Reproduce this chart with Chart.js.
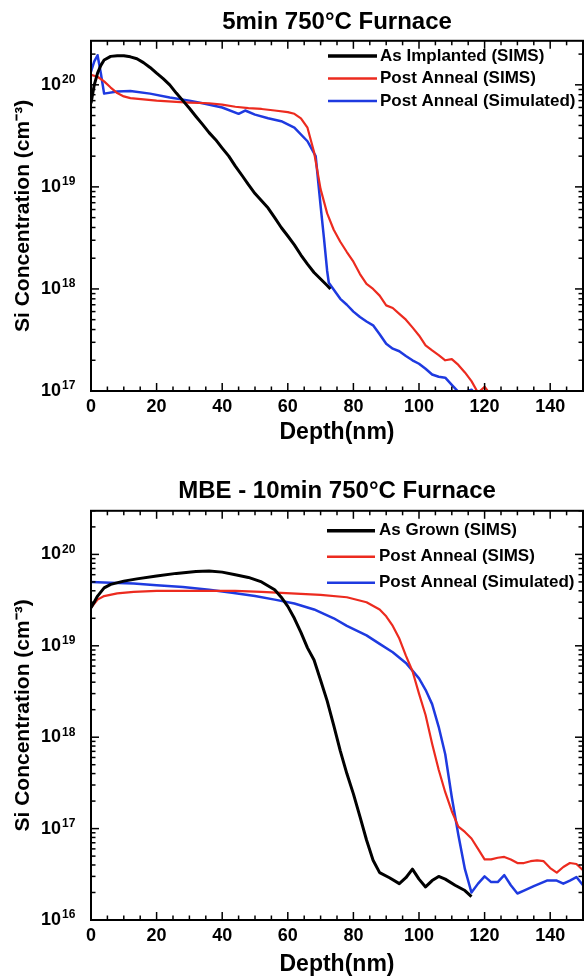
<!DOCTYPE html>
<html>
<head>
<meta charset="utf-8">
<script src="https://cdn.jsdelivr.net/npm/chart.js@4.4.1/dist/chart.umd.min.js"></script>
<style>
  body { margin: 0; background: #fff; }
  canvas { display: block; }
</style>
</head>
<body>
<canvas id="topChart" width="584" height="470"></canvas>
<canvas id="bottomChart" width="584" height="510"></canvas>
<script>
// ------------------------------------
// DATA: top panel (5min 750C furnace, implanted)
// ------------------------------------
const implDepth = [0, 1, 2, 3, 4, 6, 8, 10, 12, 14, 16, 18, 20, 22, 24, 26, 28, 30, 32, 34, 36, 38, 40, 42, 44, 46, 48, 50, 52, 54, 56, 58, 60, 62, 64, 66, 68, 70, 72, 73];
const implConc = [6.6e19, 1.0e20, 1.3e20, 1.55e20, 1.75e20, 1.9e20, 1.93e20, 1.93e20, 1.88e20, 1.8e20, 1.65e20, 1.48e20, 1.3e20, 1.15e20, 1.0e20, 8.3e19, 7.0e19, 5.9e19, 4.9e19, 4.1e19, 3.4e19, 2.9e19, 2.4e19, 2.0e19, 1.6e19, 1.3e19, 1.05e19, 8.6e18, 7.3e18, 6.2e18, 5.0e18, 4.0e18, 3.3e18, 2.7e18, 2.15e18, 1.75e18, 1.45e18, 1.25e18, 1.08e18, 1.0e18];

const topSimsDepth = [0, 2, 4, 6, 8, 10, 12, 16, 20, 26, 30, 36, 40, 44, 48, 52, 56, 60, 62, 64, 66, 68, 70, 72, 74, 76, 78, 80, 82, 84, 86, 88, 90, 92, 94, 96, 98, 100, 102, 104, 106, 108, 110, 112, 114, 116, 118, 120, 122];
const topSimsConc = [1.25e20, 1.2e20, 1.08e20, 9.4e19, 8.3e19, 7.7e19, 7.4e19, 7.2e19, 7.0e19, 6.8e19, 6.7e19, 6.6e19, 6.4e19, 6.1e19, 5.9e19, 5.8e19, 5.6e19, 5.4e19, 5.2e19, 4.7e19, 3.8e19, 2.2e19, 9.5e18, 5.5e18, 3.8e18, 2.9e18, 2.3e18, 1.85e18, 1.4e18, 1.12e18, 1.0e18, 8.6e17, 6.9e17, 6.5e17, 5.7e17, 5.0e17, 4.2e17, 3.5e17, 2.8e17, 2.5e17, 2.25e17, 2.0e17, 2.05e17, 1.8e17, 1.52e17, 1.25e17, 9.6e16, 1.1e17, 9.0e16];

const topSimDepth = [0, 1, 2, 3, 4, 8, 12, 18, 24, 30, 34, 40, 45, 47, 50, 54, 58, 62, 66, 68.5, 70, 71, 72, 72.5, 76, 78, 80, 82, 84, 86, 88, 90, 92, 94, 96, 98, 100, 102, 104, 106, 108, 110, 112, 114, 116, 117];
const topSimConc = [1.35e20, 1.7e20, 1.95e20, 1.3e20, 8.2e19, 8.6e19, 8.7e19, 8.2e19, 7.5e19, 7.0e19, 6.6e19, 6.0e19, 5.2e19, 5.6e19, 5.1e19, 4.7e19, 4.4e19, 3.8e19, 2.8e19, 2.0e19, 6.5e18, 3.2e18, 1.5e18, 1.15e18, 8.0e17, 7.0e17, 6.0e17, 5.3e17, 4.8e17, 4.4e17, 3.6e17, 2.9e17, 2.6e17, 2.45e17, 2.2e17, 2.0e17, 1.85e17, 1.65e17, 1.45e17, 1.38e17, 1.35e17, 1.15e17, 9.8e16, 9.8e16, 1.03e17, 9.5e16];

// ------------------------------------
// DATA: bottom panel (MBE - 10min 750C furnace)
// ------------------------------------
const grownDepth = [0, 2, 4, 6, 10, 14, 20, 26, 32, 36, 40, 44, 48, 52, 56, 58, 60, 62, 64, 66, 68, 70, 72, 74, 76, 78, 80, 82, 84, 86, 88, 91, 94, 96, 98, 100, 102, 104, 106, 108, 111, 114, 116];
const grownConc = [2.6e19, 3.5e19, 4.3e19, 4.7e19, 5.1e19, 5.4e19, 5.8e19, 6.2e19, 6.5e19, 6.6e19, 6.4e19, 6.0e19, 5.6e19, 5.0e19, 4.1e19, 3.4e19, 2.7e19, 2.0e19, 1.4e19, 9.5e18, 7.0e18, 4.2e18, 2.5e18, 1.35e18, 7.1e17, 4.0e17, 2.4e17, 1.35e17, 7.5e16, 4.5e16, 3.3e16, 2.9e16, 2.5e16, 2.9e16, 3.6e16, 2.8e16, 2.3e16, 2.7e16, 3.0e16, 2.8e16, 2.4e16, 2.1e16, 1.8e16];

const botSimsDepth = [0, 2, 4, 8, 13, 20, 28, 36, 44, 52, 58, 64, 70, 78, 84, 88, 90, 92, 94, 96, 98, 100, 102, 104, 106, 108, 110, 112, 114, 116, 118, 120, 122, 124, 126, 128, 130, 132, 134, 136, 138, 140, 142, 144, 146, 148, 150];
const botSimsConc = [2.6e19, 3.2e19, 3.5e19, 3.75e19, 3.9e19, 4.0e19, 4.0e19, 4.0e19, 4.0e19, 3.9e19, 3.8e19, 3.7e19, 3.6e19, 3.4e19, 3.0e19, 2.5e19, 2.1e19, 1.65e19, 1.2e19, 7.8e18, 5.3e18, 3.0e18, 1.75e18, 8.5e17, 4.4e17, 2.5e17, 1.55e17, 1.05e17, 9.2e16, 7.8e16, 6.0e16, 4.6e16, 4.6e16, 4.8e16, 4.9e16, 4.6e16, 4.2e16, 4.2e16, 4.4e16, 4.5e16, 4.4e16, 3.7e16, 3.3e16, 3.8e16, 4.2e16, 4.1e16, 3.5e16];

const botSimDepth = [0, 6, 13, 20, 28, 36, 43, 50, 56, 62, 68, 74, 78, 84, 88, 92, 96, 100, 102, 104, 106, 108, 110, 112, 114, 116, 118, 120, 122, 124, 126, 128, 130, 132, 135, 139, 142, 144, 146, 148, 150];
const botSimConc = [5.0e19, 4.9e19, 4.8e19, 4.6e19, 4.4e19, 4.1e19, 3.8e19, 3.5e19, 3.2e19, 2.9e19, 2.5e19, 2.0e19, 1.65e19, 1.3e19, 1.05e19, 8.5e18, 6.5e18, 4.4e18, 3.3e18, 2.3e18, 1.3e18, 6.5e17, 2.2e17, 8.5e16, 3.6e16, 2.0e16, 2.5e16, 3.0e16, 2.6e16, 2.6e16, 3.1e16, 2.4e16, 1.95e16, 2.1e16, 2.35e16, 2.7e16, 2.7e16, 2.5e16, 2.7e16, 2.95e16, 2.4e16];

// ------------------------------------
// AXES / LABELS
// ------------------------------------
const xTickValues = [0, 20, 40, 60, 80, 100, 120, 140];
const topDecades = [17, 18, 19, 20];
const bottomDecades = [16, 17, 18, 19, 20];
const topLabels = ["As Implanted (SIMS)", "Post Anneal (SIMS)", "Post Anneal (Simulated)"];
const bottomLabels = ["As Grown (SIMS)", "Post Anneal (SIMS)", "Post Anneal (Simulated)"];
const seriesColors = ["#000000", "#ec2b1f", "#1e3ae0"];
const seriesWidths = [3, 2.2, 2.5];

const FONT = "'Liberation Sans', Arial, Helvetica, sans-serif";
Chart.defaults.font.family = FONT;
Chart.defaults.color = "#000";

function pts(xs, ys) {
  return xs.map((x, i) => ({ x: x, y: ys[i] }));
}

function makeDatasets(labels, series) {
  return series.map((s, i) => ({
    label: labels[i],
    data: pts(s[0], s[1]),
    borderColor: seriesColors[i],
    borderWidth: seriesWidths[i],
    pointRadius: 0,
    tension: 0,
    fill: false,
    clip: 0,
    borderJoinStyle: "round",
  }));
}

// ------------------------------------
// PLUGIN: frame, inward ticks, exponents, legend
// ------------------------------------
const frameTicks = {
  id: "frameTicks",
  afterDatasetsDraw(chart) {
    const { ctx, chartArea: a } = chart;
    const x = chart.scales.x, y = chart.scales.y;
    ctx.save();
    ctx.strokeStyle = "#000";
    ctx.lineWidth = 1.5;
    const seg = (x0, y0, x1, y1) => {
      ctx.beginPath(); ctx.moveTo(x0, y0); ctx.lineTo(x1, y1); ctx.stroke();
    };
    for (let v = x.min; v <= x.max; v += 5) {
      const px = x.getPixelForValue(v);
      const len = v % 20 === 0 ? 8 : 4.5;
      seg(px, a.bottom, px, a.bottom - len);
      seg(px, a.top, px, a.top + len);
    }
    const e0 = Math.floor(Math.log10(y.min)), e1 = Math.ceil(Math.log10(y.max));
    for (let e = e0; e <= e1; e++) {
      for (let m = 1; m < 10; m++) {
        const v = m * Math.pow(10, e);
        if (v < y.min * 0.999 || v > y.max) continue;
        const py = y.getPixelForValue(v);
        const len = m === 1 ? 8 : 4.5;
        seg(a.left, py, a.left + len, py);
        seg(a.right, py, a.right - len, py);
      }
    }
    ctx.lineWidth = 2;
    ctx.strokeRect(a.left, a.top, a.right - a.left, a.bottom - a.top);

    // exponent part of the 10^n tick labels
    ctx.fillStyle = "#000";
    ctx.font = "bold 12px " + FONT;
    ctx.textAlign = "left";
    ctx.textBaseline = "middle";
    y.ticks.forEach((t) => {
      const py = y.getPixelForValue(t.value);
      ctx.fillText(String(Math.round(Math.log10(t.value))), a.left - 29, py - 5);
    });
    ctx.restore();
  },
  afterDraw(chart, args, opts) {
    const ctx = chart.ctx;
    ctx.save();
    ctx.font = "bold 17px " + FONT;
    ctx.textAlign = "left";
    ctx.textBaseline = "middle";
    ctx.fillStyle = "#000";
    chart.data.datasets.forEach((ds, i) => {
      const yy = opts.top + i * opts.gap;
      ctx.strokeStyle = ds.borderColor;
      ctx.lineWidth = i === 0 ? 3.5 : 2.5;
      ctx.beginPath(); ctx.moveTo(opts.lineX0, yy); ctx.lineTo(opts.lineX1, yy); ctx.stroke();
      ctx.fillText(ds.label, opts.textX, yy);
    });
    ctx.restore();
  },
};

function makeChart(id, title, titlePad, labels, series, decades, yMax, xAxisH, xTitlePad, legend) {
  const ctx = document.getElementById(id).getContext("2d");
  return new Chart(ctx, {
    type: "line",
    data: { datasets: makeDatasets(labels, series) },
    plugins: [frameTicks],
    options: {
      responsive: false,
      animation: false,
      layout: { padding: { left: 0, right: 1, top: 0, bottom: 0 } },
      plugins: {
        legend: { display: false },
        tooltip: { enabled: false },
        title: {
          display: true,
          text: title,
          fullSize: false,
          font: { size: 24, weight: "bold" },
          color: "#000",
          padding: titlePad,
        },
        frameTicks: legend,
      },
      scales: {
        x: {
          type: "linear",
          min: 0,
          max: 150,
          grid: { display: false, drawTicks: false },
          border: { display: false },
          afterBuildTicks: (s) => { s.ticks = xTickValues.map((v) => ({ value: v })); },
          afterFit: (s) => { s.height = xAxisH; },
          ticks: { font: { size: 18, weight: "bold" }, padding: 5, autoSkip: false, maxRotation: 0 },
          title: {
            display: true,
            text: "Depth(nm)",
            font: { size: 23, weight: "bold" },
            padding: { top: 0, bottom: xTitlePad },
          },
        },
        y: {
          type: "logarithmic",
          min: Math.pow(10, decades[0]),
          max: yMax,
          grid: { display: false, drawTicks: false },
          border: { display: false },
          afterBuildTicks: (s) => { s.ticks = decades.map((e) => ({ value: Math.pow(10, e) })); },
          afterFit: (s) => { s.width = 91; },
          ticks: { font: { size: 18, weight: "bold" }, padding: 30, autoSkip: false, callback: () => "10" },
          title: {
            display: true,
            text: "Si Concentration (cm\u207B\u00B3)",
            font: { size: 21, weight: "bold" },
            padding: { top: 10.5, bottom: 0 },
          },
        },
      },
    },
  });
}

window.topChart = makeChart(
  "topChart",
  "5min 750\u00B0C Furnace",
  { top: 3.6, bottom: 4.3 },
  topLabels,
  [[implDepth, implConc], [topSimsDepth, topSimsConc], [topSimDepth, topSimConc]],
  topDecades,
  2.7e20,
  79,
  24,
  { top: 56, gap: 22.5, lineX0: 328, lineX1: 377, textX: 380 }
);

window.bottomChart = makeChart(
  "bottomChart",
  "MBE - 10min 750\u00B0C Furnace",
  { top: 3.6, bottom: 5.3 },
  bottomLabels,
  [[grownDepth, grownConc], [botSimsDepth, botSimsConc], [botSimDepth, botSimConc]],
  bottomDecades,
  3.0e20,
  60,
  2,
  { top: 60.7, gap: 26, lineX0: 327, lineX1: 375, textX: 379 }
);
</script>
</body>
</html>
